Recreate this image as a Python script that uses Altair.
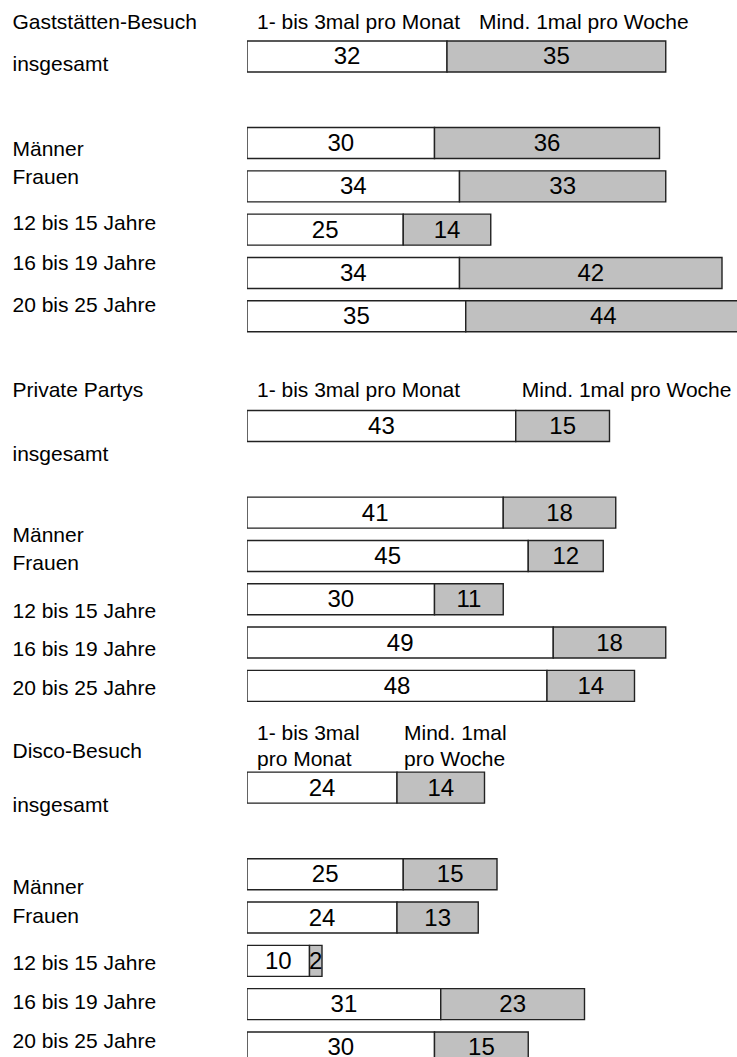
import altair as alt
import pandas as pd

groups = ["Gaststätten-Besuch", "Private Partys", "Disco-Besuch"]
rows = ["insgesamt", "Männer", "Frauen", "12 bis 15 Jahre", "16 bis 19 Jahre", "20 bis 25 Jahre"]
freqs = ["1- bis 3mal pro Monat", "Mind. 1mal pro Woche"]

monthly_gast = [32, 30, 34, 25, 34, 35]
weekly_gast = [35, 36, 33, 14, 42, 44]
monthly_party = [43, 41, 45, 30, 49, 48]
weekly_party = [15, 18, 12, 11, 18, 14]
monthly_disco = [24, 25, 24, 10, 31, 30]
weekly_disco = [14, 15, 13, 2, 23, 15]

series = {
    groups[0]: (monthly_gast, weekly_gast),
    groups[1]: (monthly_party, weekly_party),
    groups[2]: (monthly_disco, weekly_disco),
}

records = []
for g in groups:
    m, w = series[g]
    for i, r in enumerate(rows):
        records.append({"group": g, "row": r, "freq": freqs[0], "order": 0, "value": m[i]})
        records.append({"group": g, "row": r, "freq": freqs[1], "order": 1, "value": w[i]})
df = pd.DataFrame(records)

STEP = 43.3
FONT = "Liberation Sans"
y_domain = ["__h", "insgesamt", "__gap"] + rows[1:]


def panel(group, label_offsets, head_dy, head2_dx, two_line, extra_bottom=0.0):
    base = (
        alt.Chart(df)
        .transform_filter(alt.datum.group == group)
        .transform_stack(stack="value", groupby=["row"], sort=[alt.SortField("order")], as_=["x0", "x1"])
        .transform_calculate(xm="(datum.x0 + datum.x1) / 2")
    )
    cond = [{"test": f"datum.value === '{k}'", "value": v} for k, v in label_offsets.items()]
    yaxis = alt.Axis(
        title=None, domain=False, ticks=False, grid=False,
        labelAlign="left", labelPadding=235, labelFont=FONT, labelFontSize=21,
        labelColor="black", labelLimit=400,
        labelExpr=f"datum.value === '__h' ? '{group}' : datum.value === '__gap' ? '' : datum.value",
        labelOffset={"condition": cond, "value": 0},
    )
    pad_outer = extra_bottom / (2 * STEP)
    yscale = alt.Scale(domain=y_domain, paddingInner=0, paddingOuter=pad_outer, align=0)
    xscale = alt.Scale(domain=[0, 78.4], nice=False, zero=True)

    bars = base.mark_bar(size=31, stroke="#222222", strokeWidth=1.4, clip=True).encode(
        x=alt.X("x0:Q", scale=xscale, axis=None),
        x2="x1:Q",
        y=alt.Y("row:N", scale=yscale, axis=yaxis),
        fill=alt.Fill("freq:N", scale=alt.Scale(domain=freqs, range=["white", "#c0c0c0"]), legend=None),
    )
    nums = base.mark_text(font=FONT, fontSize=24, color="black", dy=1).encode(
        x=alt.X("xm:Q"), y=alt.Y("row:N"), text="value:Q"
    )
    if two_line:
        htext = "replace(datum.freq, ' pro ', '\\npro ')"
    else:
        htext = "datum.freq"
    h = base.transform_filter(alt.datum.row == "insgesamt").transform_calculate(hrow="'__h'", htext=htext)
    head1 = h.transform_filter(alt.datum.order == 0).mark_text(
        align="left", dx=10, dy=head_dy, font=FONT, fontSize=21, color="black", lineBreak="\n", lineHeight=26
    ).encode(x="x0:Q", y=alt.Y("hrow:N"), text="htext:N")
    head2 = h.transform_filter(alt.datum.order == 1).mark_text(
        align="left", dx=head2_dx, dy=head_dy, font=FONT, fontSize=21, color="black", lineBreak="\n", lineHeight=26
    ).encode(x="x0:Q", y=alt.Y("hrow:N"), text="htext:N")
    return alt.layer(bars, nums, head1, head2).properties(
        width=490, height=STEP * len(y_domain) + extra_bottom
    )


p1 = panel(groups[0], {"__h": 9.8, "insgesamt": 8.5, "Männer": 7, "Frauen": -8,
                       "12 bis 15 Jahre": -6, "16 bis 19 Jahre": -8.5, "20 bis 25 Jahre": -10.5},
           10, 32, False, extra_bottom=8.0)
p2 = panel(groups[1], {"__h": 7.8, "insgesamt": 28.5, "Männer": 23.7, "Frauen": 7.7,
                       "12 bis 15 Jahre": 12.7, "16 bis 19 Jahre": 7.3, "20 bis 25 Jahre": 3}, 8, 6, False)
p3 = panel(groups[2], {"__h": 7.8, "insgesamt": 18.5, "Männer": 13.7, "Frauen": -1,
                       "12 bis 15 Jahre": 3, "16 bis 19 Jahre": -1.3, "20 bis 25 Jahre": -5.3}, -10, 7, True)

chart = (
    alt.vconcat(p1, p2, p3, spacing=14.6, bounds="flush")
    .properties(padding={"left": 12, "top": -8.5, "right": 0, "bottom": 0}, background="white")
    .configure_view(stroke=None)
)

chart.save("out.html", embed_options={"renderer": "svg", "actions": False})
